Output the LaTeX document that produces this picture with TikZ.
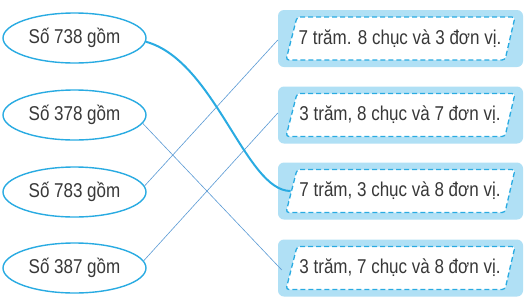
\documentclass[tikz,border=0pt]{standalone}
\usepackage{fontspec}
\setmainfont{Liberation Sans}[FakeStretch=0.85]
\usetikzlibrary{shapes.geometric}
\definecolor{cyanline}{HTML}{29ABE2}
\definecolor{thinline}{HTML}{5B9BD5}
\definecolor{boxfill}{HTML}{B0E0F5}
\definecolor{txt}{HTML}{383838}
\begin{document}
\begin{tikzpicture}[x=1pt,y=-1pt,
  numell/.style={ellipse,draw=cyanline,line width=1.4pt,minimum width=143pt,minimum height=50pt,inner sep=0pt,text=txt,font=\fontsize{20}{22}\selectfont},
  outerbox/.style={rectangle,rounded corners=6pt,fill=boxfill,minimum width=245pt,minimum height=57pt,inner sep=0pt},
  dashbox/.style={draw=cyanline,line width=1.3pt,dash pattern=on 5pt off 3pt,rounded corners=3pt,fill=white},
  boxtext/.style={inner sep=0pt,text=txt,font=\fontsize{20}{22}\selectfont},
  thinconn/.style={draw=thinline,line width=0.6pt},
  thickconn/.style={draw=cyanline,line width=2pt}]
\fill[white] (0,0) rectangle (530,306);
\useasboundingbox (0,0) rectangle (530,306);
\node[numell] (e1) at (74.5,38) {Số 738 gồm};
\node[numell] (e2) at (74.5,115) {Số 378 gồm};
\node[numell] (e3) at (74.5,192) {Số 783 gồm};
\node[numell] (e4) at (74.5,268) {Số 387 gồm};
\foreach \i/\y/\t in {1/38.5/{7 trăm. 8 chục và 3 đơn vị.},2/115/{3 trăm, 8 chục và 7 đơn vị.},3/191/{7 trăm, 3 chục và 8 đơn vị.},4/268/{3 trăm, 7 chục và 8 đơn vị.}}{
  \node[outerbox] (b\i) at (400.5,\y) {};
  \draw[dashbox] ([shift={(-103.5,-21.5)}]b\i.center) -- ([shift={(114.5,-21.5)}]b\i.center) -- ([shift={(104.5,21.5)}]b\i.center) -- ([shift={(-114.5,21.5)}]b\i.center) -- cycle;
  \node[boxtext] (t\i) at ([xshift=-0.5pt]b\i.center) {\t};
}
\coordinate (p3w) at ([xshift=-110pt]b3.center);
\draw[thinconn] (e2.-7) -- ([shift={(4,2)}]b4.west);
\draw[thinconn] (e3.5) -- ([shift={(0,1.5)}]b1.west);
\draw[thinconn] (e4.6) -- ([shift={(0,-2)}]b2.west);
\draw[thickconn] (e1.-3) .. controls +(69,19) and +(-45,0) .. (p3w);
\end{tikzpicture}
\end{document}
